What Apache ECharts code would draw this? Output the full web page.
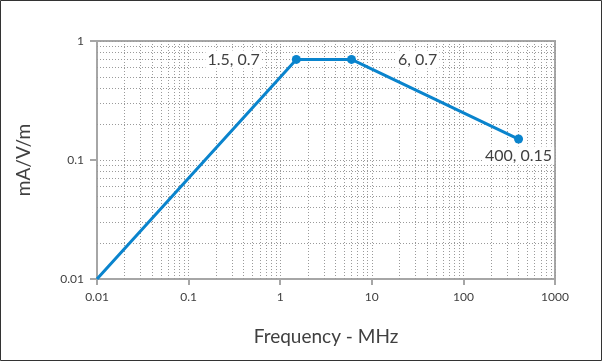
<!DOCTYPE html>
<html>
<head>
<meta charset="utf-8">
<script src="https://cdn.jsdelivr.net/npm/echarts@6/dist/echarts.min.js"></script>
<style>
html,body{margin:0;padding:0;background:#fff;}
#chart{width:602px;height:362px;}
</style>
</head>
<body>
<div id="chart"></div>
<script>
// Data
var freqMHz = [0.01, 1.5, 6, 400];
var fieldMA = [0.01, 0.7, 0.7, 0.15];
var pointLabels = ['', '1.5, 0.7', '6, 0.7', '400, 0.15'];
var xTickLabels = ['0.01', '0.1', '1', '10', '100', '1000'];
var yTickLabels = ['0.01', '0.1', '1'];
var xDecades = [0.01, 0.1, 1, 10, 100];
var yDecades = [0.01, 0.1];
var minorMultipliers = [2, 3, 4, 5, 6, 7, 8, 9];

var FONT = 'Lato';
var TXT = '#404040';
var BLUE = '#0a84cd';
var GRIDC = '#9a9a9a';
var AXC = '#a6a6a6';

function labelFor(list, minExp) {
  return function (v) {
    var i = Math.round(Math.log10(v)) - minExp;
    return list[i] !== undefined ? list[i] : '';
  };
}

var minorLines = [];
xDecades.forEach(function (d) {
  minorMultipliers.forEach(function (m) { minorLines.push({ xAxis: +(d * m).toPrecision(6) }); });
});
yDecades.forEach(function (d) {
  minorMultipliers.forEach(function (m) { minorLines.push({ yAxis: +(d * m).toPrecision(6) }); });
});

var seriesData = freqMHz.map(function (x, i) {
  var item = { value: [x, fieldMA[i]] };
  if (i === 0) { item.symbol = 'none'; }
  if (pointLabels[i]) {
    var pos = i === 1 ? 'left' : (i === 2 ? 'right' : 'bottom');
    var dist = i === 1 ? 30 : (i === 2 ? 40 : 3);
    item.label = {
      show: true, position: pos, distance: dist, formatter: pointLabels[i],
      fontFamily: FONT, fontSize: 16, color: TXT, backgroundColor: '#fff', padding: [1, 2]
    };
  }
  return item;
});

var chart = echarts.init(document.getElementById('chart'), null, { renderer: 'canvas' });
chart.setOption({
  animation: false,
  backgroundColor: '#fff',
  graphic: [{
    type: 'rect', silent: true, z: 100,
    shape: { x: 0.5, y: 0.5, width: 601, height: 360 },
    style: { fill: 'none', stroke: '#333', lineWidth: 1 }
  }],
  grid: {
    left: 97, right: 47, top: 41, bottom: 83,
    show: true, borderColor: AXC, borderWidth: 2, backgroundColor: 'transparent'
  },
  xAxis: {
    type: 'log', logBase: 10, min: 0.01, max: 1000,
    name: 'Frequency - MHz', nameLocation: 'middle', nameGap: 48,
    nameTextStyle: { fontFamily: FONT, fontSize: 19, color: TXT },
    axisLine: { show: true, lineStyle: { color: AXC, width: 2 } },
    axisTick: { show: true, length: 6, lineStyle: { color: AXC, width: 2 } },
    axisLabel: { formatter: labelFor(xTickLabels, -2), fontFamily: FONT, fontSize: 12, color: TXT, margin: 12 },
    splitLine: { show: true, lineStyle: { color: GRIDC, width: 1, type: [1, 2] } }
  },
  yAxis: {
    type: 'log', logBase: 10, min: 0.01, max: 1,
    name: 'mA/V/m', nameLocation: 'middle', nameGap: 64, nameRotate: 90,
    nameTextStyle: { fontFamily: FONT, fontSize: 19, color: TXT },
    axisLine: { show: true, lineStyle: { color: AXC, width: 2 } },
    axisTick: { show: true, length: 7, lineStyle: { color: AXC, width: 2 } },
    axisLabel: { formatter: labelFor(yTickLabels, -2), fontFamily: FONT, fontSize: 12, color: TXT, margin: 13 },
    splitLine: { show: true, lineStyle: { color: GRIDC, width: 1, type: [1, 2] } }
  },
  series: [{
    type: 'line',
    data: seriesData,
    symbol: 'circle', symbolSize: 9,
    itemStyle: { color: BLUE },
    lineStyle: { color: BLUE, width: 3 },
    z: 5,
    markLine: {
      silent: true, symbol: 'none', animation: false,
      label: { show: false },
      lineStyle: { color: GRIDC, width: 1, type: [1, 2] },
      emphasis: { disabled: true },
      data: minorLines,
      z: 1
    }
  }]
});
</script>
</body>
</html>
